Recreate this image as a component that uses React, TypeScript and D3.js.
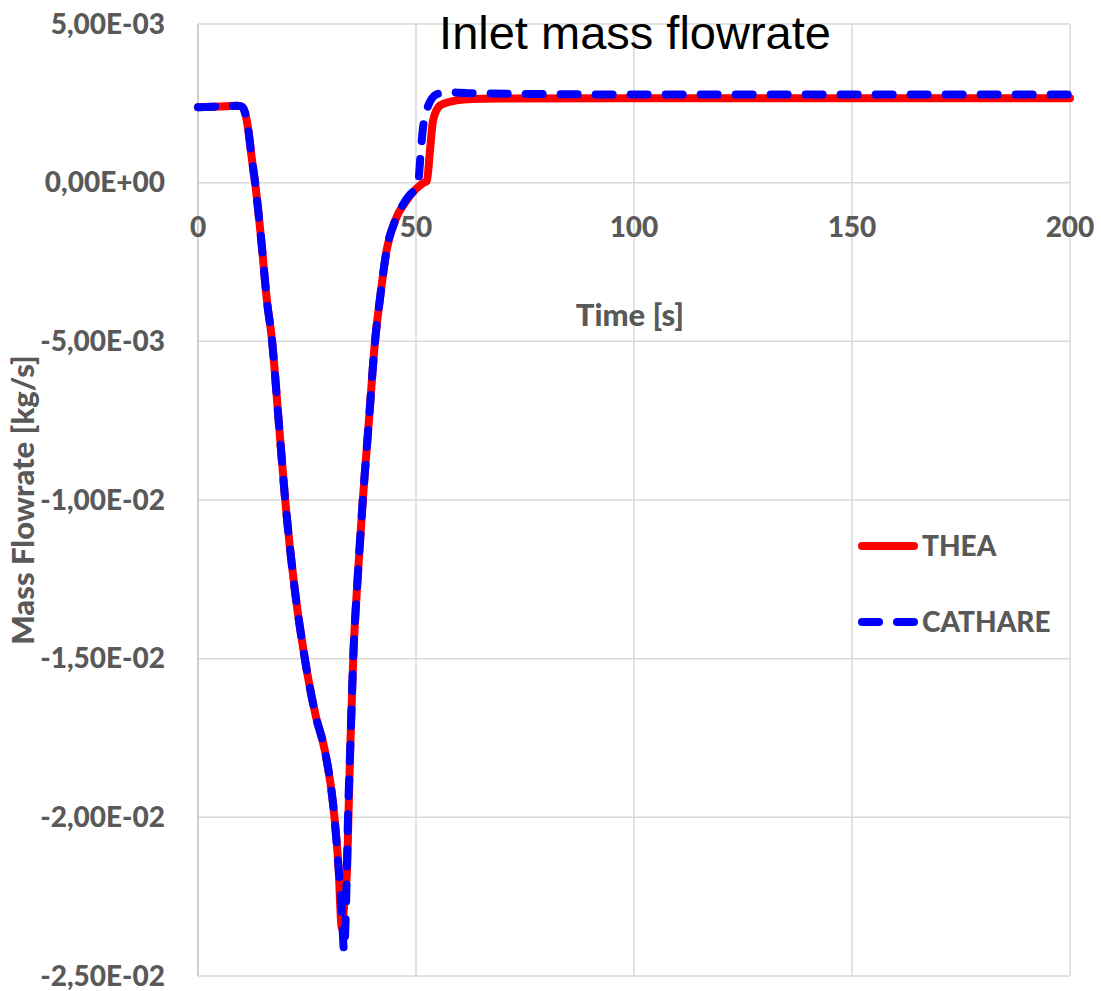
import React, { useEffect, useRef } from 'react';
import * as d3 from 'd3';

// time [s]
const theaTime = [0, 5, 9, 10, 10.8, 11.5, 12.3, 13.1, 14.5, 15.8, 17.0, 18.5, 20.0, 22.0, 24.5, 27.0, 29.1, 31.0, 32.2, 33.0, 33.6, 34.2, 34.5, 34.9, 35.6, 36.6, 37.8, 39.2, 40.6, 41.7, 43.3, 45.2, 47.9, 50.0, 51.8, 52.5, 53.2, 53.9, 55.5, 57.8, 61, 70, 100, 150, 200];
// mass flowrate [kg/s] x 1e-3
const theaFlow = [2.38, 2.4, 2.42, 2.4, 2.2, 1.7, 0.8, 0, -1.8, -3.7, -5.0, -7.5, -10.0, -12.6, -15.0, -16.8, -17.9, -19.6, -21.5, -23.5, -22.6, -21.6, -20.0, -17.9, -15.0, -12.5, -10.0, -7.5, -5.0, -3.7, -2.1, -1.2, -0.55, -0.2, 0, 0.05, 1.0, 1.95, 2.43, 2.55, 2.62, 2.65, 2.66, 2.66, 2.66];

const cathareTime = [0, 5, 9, 10, 10.8, 11.5, 12.3, 13.1, 14.5, 15.8, 17.0, 18.5, 20.0, 22.0, 24.5, 27.0, 29.1, 31.0, 32.2, 33.0, 33.5, 34.0, 34.4, 34.9, 35.6, 36.6, 37.8, 39.2, 40.6, 41.7, 43.3, 45.2, 47.9, 50.5, 51.0, 51.5, 52.5, 53.2, 55, 58, 62, 100, 150, 200];
const cathareFlow = [2.38, 2.4, 2.42, 2.4, 2.2, 1.7, 0.8, 0, -1.8, -3.7, -5.0, -7.5, -10.0, -12.6, -15.0, -16.8, -17.9, -19.6, -21.5, -23.0, -24.2, -22.5, -20.0, -17.9, -15.0, -12.5, -10.0, -7.5, -5.0, -3.7, -2.1, -1.2, -0.5, 0, 0.8, 1.6, 2.3, 2.55, 2.8, 2.85, 2.82, 2.78, 2.78, 2.78];

const xTicks = [0, 50, 100, 150, 200];
const yTicks = [5e-3, 0, -5e-3, -1e-2, -1.5e-2, -2e-2, -2.5e-2];

const seriesNames = ['THEA', 'CATHARE'];

// Excel style "5,00E-03"
const fmt = (v: number) => {
  if (v === 0) return '0,00E+00';
  const [m, e] = v.toExponential(2).split('e');
  const ex = parseInt(e, 10);
  return m.replace('.', ',') + 'E' + (ex < 0 ? '-' : '+') + String(Math.abs(ex)).padStart(2, '0');
};

export default function App() {
  const svgRef = useRef<SVGSVGElement>(null);

  useEffect(() => {
    const svg = d3.select(svgRef.current);
    svg.selectAll('*').remove();

    const left = 198, right = 1070, top = 24, bottom = 976;
    const font = 'Lato, "Open Sans", sans-serif';
    const weight = 900;
    const grey = '#595959';

    const x = d3.scaleLinear().domain([0, 200]).range([left, right]);
    const y = d3.scaleLinear().domain([-2.5e-2, 5e-3]).range([bottom, top]);

    // gridlines
    svg.append('g')
      .selectAll('line')
      .data(yTicks)
      .join('line')
      .attr('x1', left).attr('x2', right)
      .attr('y1', d => y(d)).attr('y2', d => y(d))
      .attr('stroke', '#d9d9d9')
      .attr('stroke-width', 1.5);

    svg.append('g')
      .selectAll('line')
      .data(xTicks)
      .join('line')
      .attr('x1', d => x(d)).attr('x2', d => x(d))
      .attr('y1', top).attr('y2', bottom)
      .attr('stroke', d => (d === 0 ? '#bfbfbf' : '#d9d9d9'))
      .attr('stroke-width', 1.5);

    // y tick labels
    svg.append('g')
      .selectAll('text')
      .data(yTicks)
      .join('text')
      .attr('x', left - 33)
      .attr('y', d => y(d))
      .attr('dy', '0.35em')
      .attr('text-anchor', 'end')
      .attr('font-family', font)
      .attr('font-weight', weight)
      .attr('font-size', 28)
      .attr('fill', grey)
      .text(d => fmt(d));

    // x tick labels (below zero line)
    svg.append('g')
      .selectAll('text')
      .data(xTicks)
      .join('text')
      .attr('x', d => x(d))
      .attr('y', y(0) + 45)
      .attr('dy', '0.35em')
      .attr('text-anchor', 'middle')
      .attr('font-family', font)
      .attr('font-weight', weight)
      .attr('font-size', 28)
      .attr('fill', grey)
      .text(d => d);

    // axis titles
    svg.append('text')
      .attr('x', 630).attr('y', 315)
      .attr('dy', '0.35em')
      .attr('text-anchor', 'middle')
      .attr('font-family', font)
      .attr('font-weight', weight)
      .attr('font-size', 31)
      .attr('fill', grey)
      .text('Time [s]');

    svg.append('text')
      .attr('transform', `translate(23,${(top + bottom) / 2}) rotate(-90)`)
      .attr('dy', '0.35em')
      .attr('text-anchor', 'middle')
      .attr('font-family', font)
      .attr('font-weight', weight)
      .attr('font-size', 31)
      .attr('fill', grey)
      .text('Mass Flowrate [kg/s]');

    // title
    svg.append('text')
      .attr('x', 635).attr('y', 33)
      .attr('dy', '0.35em')
      .attr('text-anchor', 'middle')
      .attr('font-family', '"Liberation Sans", Arial, sans-serif')
      .attr('font-size', 47)
      .attr('fill', '#000')
      .text('Inlet mass flowrate');

    const line = d3.line<[number, number]>()
      .x(d => x(d[0]))
      .y(d => y(d[1] * 1e-3))
      .curve(d3.curveMonotoneX);

    const thea = theaTime.map((t, i) => [t, theaFlow[i]] as [number, number]);
    const cathare = cathareTime.map((t, i) => [t, cathareFlow[i]] as [number, number]);

    svg.append('path')
      .attr('d', line(thea))
      .attr('fill', 'none')
      .attr('stroke', '#ff0000')
      .attr('stroke-width', 8)
      .attr('stroke-linejoin', 'round')
      .attr('stroke-linecap', 'round');

    svg.append('path')
      .attr('d', line(cathare))
      .attr('fill', 'none')
      .attr('stroke', '#0000ff')
      .attr('stroke-width', 8)
      .attr('stroke-dasharray', '17,18')
      .attr('stroke-linejoin', 'round')
      .attr('stroke-linecap', 'round');

    // legend
    const legend = svg.append('g');
    const ly = [546, 622];
    legend.selectAll('line')
      .data(seriesNames)
      .join('line')
      .attr('x1', 862).attr('x2', 914)
      .attr('y1', (d, i) => ly[i]).attr('y2', (d, i) => ly[i])
      .attr('stroke', (d, i) => (i === 0 ? '#ff0000' : '#0000ff'))
      .attr('stroke-width', 8)
      .attr('stroke-linecap', 'round')
      .attr('stroke-dasharray', (d, i) => (i === 0 ? null : '17,18'));

    legend.selectAll('text')
      .data(seriesNames)
      .join('text')
      .attr('x', 922)
      .attr('y', (d, i) => ly[i])
      .attr('dy', '0.35em')
      .attr('font-family', font)
      .attr('font-weight', weight)
      .attr('font-size', 28)
      .attr('fill', grey)
      .text(d => d);
  }, []);

  return (
    <svg
      ref={svgRef}
      width={1101}
      height={991}
      style={{ position: 'absolute', left: 0, top: 0, background: '#fff' }}
    />
  );
}
